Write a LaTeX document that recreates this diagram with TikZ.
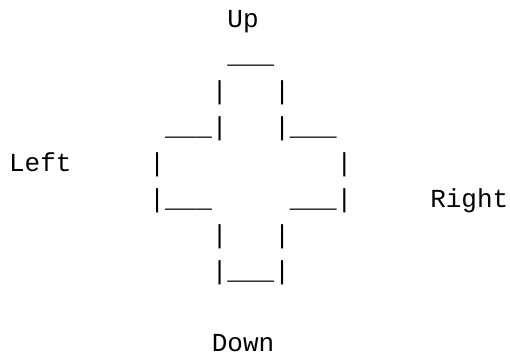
\documentclass[tikz,border=0pt]{standalone}
\usepackage{fontspec}
\setmonofont{Liberation Mono}
\begin{document}
\begin{tikzpicture}[x=11.7pt,y=-27pt,
  every node/.style={anchor=base west,inner sep=0pt,font=\ttfamily\fontsize{19.5pt}{27pt}\selectfont}]
\useasboundingbox (-0.564,-0.764) rectangle (32.128,9.042);
% labels
\node (up) at (14,0) {Up};
\node (left) at (0,4) {Left};
\node (right) at (27,5) {Right};
\node (down) at (13,9) {Down};
% the pad, one column per character
\node (topbar) at (14,1) {\_\_\_};
\foreach \r/\n in {2/upper,6/lower} {
  \node (\n l) at (13,\r) {|};
  \node (\n r) at (17,\r) {|};
}
\node (armlt) at (10,3) {\_\_\_|};
\node (armrt) at (17,3) {|\_\_\_};
\node (sidel) at (9,4) {|};
\node (sider) at (21,4) {|};
\node (armlb) at (9,5) {|\_\_\_};
\node (armrb) at (18,5) {\_\_\_|};
\node (botbar) at (13,7) {|\_\_\_|};
\end{tikzpicture}
\end{document}
